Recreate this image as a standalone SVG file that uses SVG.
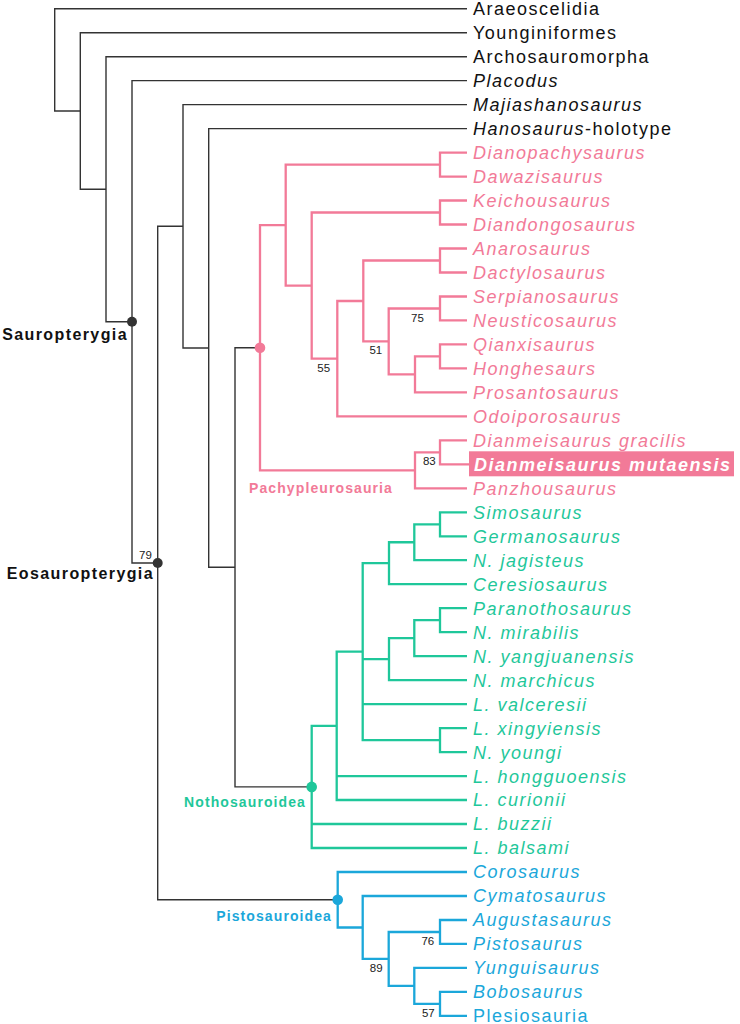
<svg xmlns="http://www.w3.org/2000/svg" width="740" height="1024" viewBox="0 0 740 1024">
<style>
.k{fill:none;stroke:#333;stroke-width:1.4}
.p{fill:none;stroke:#F27A98;stroke-width:2.3}
.g{fill:none;stroke:#1FC79A;stroke-width:2.3}
.b{fill:none;stroke:#1BA7DA;stroke-width:2.3}
text{font-family:"Liberation Sans",Arial,sans-serif}
.lf{font-size:18px;letter-spacing:1.5px}
.it{font-style:italic}
.tk{fill:#111}
.tp{fill:#F27A98}
.tg{fill:#1FC79A}
.tb{fill:#1BA7DA}
.cl{font-weight:bold;font-size:16px;letter-spacing:1.4px;fill:#111}
.sc{font-weight:bold;font-size:14px;letter-spacing:1.1px}
.bs{font-size:11.5px;fill:#222;text-anchor:middle}
</style>
<g id="connectors">
<path class="k" d="M467,8.7 H54.7 V111 H80.3"/>
<path class="k" d="M467,32.7 H80.3 V189.3 H106"/>
<path class="k" d="M467,56.7 H106 V321.8 H132"/>
<path class="k" d="M467,80.6 H132 V563 H157.7"/>
<path class="k" d="M183,226.3 H157.7 V899.7 H337.7"/>
<path class="k" d="M467,104.6 H183 V348 H208.7"/>
<path class="k" d="M467,128.6 H208.7 V567.3 H235"/>
<path class="k" d="M260,347.7 H235 V786.9 H311.7"/>
<path class="p" d="M285.7,225.1 H260 V470.3 H415"/>
<path class="p" d="M440,164.6 H285.7 V285.6 H311.7"/>
<path class="p" d="M467,152.6 H440 V176.6 H467"/>
<path class="p" d="M440,212.5 H311.7 V358.7 H337.3"/>
<path class="p" d="M467,200.5 H440 V224.5 H467"/>
<path class="p" d="M363.3,301 H337.3 V416.4 H467"/>
<path class="p" d="M440,260.5 H363.3 V341.4 H388.7"/>
<path class="p" d="M467,248.5 H440 V272.5 H467"/>
<path class="p" d="M440,308.5 H388.7 V374.4 H415"/>
<path class="p" d="M467,296.5 H440 V320.4 H467"/>
<path class="p" d="M440,356.4 H415 V392.4 H467"/>
<path class="p" d="M467,344.4 H440 V368.4 H467"/>
<path class="p" d="M440,452.3 H415 V488.3 H467"/>
<path class="p" d="M467,440.3 H440 V464.3 H469"/>
<path class="g" d="M336.7,725.8 H311.7 V848 H467 M311.7,824 H467"/>
<path class="g" d="M362.7,651.65 H336.7 V800 H467 M336.7,776.1 H467"/>
<path class="g" d="M389,563.2 H362.7 V740.1 H440 M362.7,659.15 H389 M362.7,704.1 H467"/>
<path class="g" d="M467,728.1 H440 V752.1 H467"/>
<path class="g" d="M414.3,542.25 H389 V584.2 H467"/>
<path class="g" d="M440,524.3 H414.3 V560.2 H467"/>
<path class="g" d="M467,512.3 H440 V536.3 H467"/>
<path class="g" d="M414.3,638.2 H389 V680.1 H467"/>
<path class="g" d="M440,620.2 H414.3 V656.2 H467"/>
<path class="g" d="M467,608.2 H440 V632.2 H467"/>
<path class="b" d="M467,872 H337.7 V927.5 H362.7"/>
<path class="b" d="M467,896 H362.7 V958.9 H388.7"/>
<path class="b" d="M440,932 H388.7 V985.9 H414.3"/>
<path class="b" d="M467,920 H440 V943.9 H467"/>
<path class="b" d="M467,967.9 H414.3 V1003.9 H440"/>
<path class="b" d="M467,991.9 H440 V1015.9 H467"/>
</g>
<g id="node-sauropterygia"><circle cx="132" cy="321.8" r="5" fill="#333"/><text class="cl" x="128" y="340" text-anchor="end">Sauropterygia</text></g>
<g id="node-eosauropterygia"><circle cx="157.7" cy="563" r="5" fill="#333"/><text class="cl" x="154" y="579" text-anchor="end">Eosauropterygia</text><text class="bs" x="145.5" y="559.3">79</text></g>
<g id="node-pachypleurosauria"><circle cx="260" cy="347.7" r="5.3" fill="#F27A98"/><text class="sc tp" x="249" y="493.3">Pachypleurosauria</text></g>
<g id="node-nothosauroidea"><circle cx="311.7" cy="786.9" r="5.3" fill="#1FC79A"/><text class="sc tg" x="306" y="806.5" text-anchor="end">Nothosauroidea</text></g>
<g id="node-pistosauroidea"><circle cx="337.7" cy="899.7" r="5.3" fill="#1BA7DA"/><text class="sc tb" x="332" y="921" text-anchor="end">Pistosauroidea</text></g>
<g id="support">
<text class="bs" x="323.7" y="371.7">55</text>
<text class="bs" x="375.8" y="354.3">51</text>
<text class="bs" x="417.5" y="322.3">75</text>
<text class="bs" x="429.3" y="465">83</text>
<text class="bs" x="427.8" y="945">76</text>
<text class="bs" x="376.2" y="972">89</text>
<text class="bs" x="428.3" y="1017.3">57</text>
</g>
<g id="leaves-outgroup" class="lf tk">
<g id="leaf-araeoscelidia"><text x="473" y="15.1">Araeoscelidia</text></g>
<g id="leaf-younginiformes"><text x="473" y="39.1">Younginiformes</text></g>
<g id="leaf-archosauromorpha"><text x="473" y="63.1">Archosauromorpha</text></g>
<g id="leaf-placodus"><text class="it" x="473" y="87">Placodus</text></g>
<g id="leaf-majiashanosaurus"><text class="it" x="473" y="111">Majiashanosaurus</text></g>
<g id="leaf-hanosaurus"><text x="473" y="135"><tspan class="it">Hanosaurus</tspan>-holotype</text></g>
</g>
<g id="leaves-pachypleurosauria" class="lf it tp">
<g id="leaf-dianopachysaurus"><text x="473" y="159">Dianopachysaurus</text></g>
<g id="leaf-dawazisaurus"><text x="473" y="183">Dawazisaurus</text></g>
<g id="leaf-keichousaurus"><text x="473" y="206.9">Keichousaurus</text></g>
<g id="leaf-diandongosaurus"><text x="473" y="230.9">Diandongosaurus</text></g>
<g id="leaf-anarosaurus"><text x="473" y="254.9">Anarosaurus</text></g>
<g id="leaf-dactylosaurus"><text x="473" y="278.9">Dactylosaurus</text></g>
<g id="leaf-serpianosaurus"><text x="473" y="302.9">Serpianosaurus</text></g>
<g id="leaf-neusticosaurus"><text x="473" y="326.8">Neusticosaurus</text></g>
<g id="leaf-qianxisaurus"><text x="473" y="350.8">Qianxisaurus</text></g>
<g id="leaf-honghesaurs"><text x="473" y="374.8">Honghesaurs</text></g>
<g id="leaf-prosantosaurus"><text x="473" y="398.8">Prosantosaurus</text></g>
<g id="leaf-odoiporosaurus"><text x="473" y="422.8">Odoiporosaurus</text></g>
<g id="leaf-dianmeisaurus-gracilis"><text x="473" y="446.7">Dianmeisaurus gracilis</text></g>
<g id="leaf-dianmeisaurus-mutaensis"><rect x="469" y="451.3" width="265" height="25" fill="#F27A98"/><text x="474" y="470.7" fill="#fff" font-weight="bold">Dianmeisaurus mutaensis</text></g>
<g id="leaf-panzhousaurus"><text x="473" y="494.7">Panzhousaurus</text></g>
</g>
<g id="leaves-nothosauroidea" class="lf it tg">
<g id="leaf-simosaurus"><text x="473" y="518.7">Simosaurus</text></g>
<g id="leaf-germanosaurus"><text x="473" y="542.7">Germanosaurus</text></g>
<g id="leaf-n-jagisteus"><text x="473" y="566.6">N. jagisteus</text></g>
<g id="leaf-ceresiosaurus"><text x="473" y="590.6">Ceresiosaurus</text></g>
<g id="leaf-paranothosaurus"><text x="473" y="614.6">Paranothosaurus</text></g>
<g id="leaf-n-mirabilis"><text x="473" y="638.6">N. mirabilis</text></g>
<g id="leaf-n-yangjuanensis"><text x="473" y="662.6">N. yangjuanensis</text></g>
<g id="leaf-n-marchicus"><text x="473" y="686.5">N. marchicus</text></g>
<g id="leaf-l-valceresii"><text x="473" y="710.5">L. valceresii</text></g>
<g id="leaf-l-xingyiensis"><text x="473" y="734.5">L. xingyiensis</text></g>
<g id="leaf-n-youngi"><text x="473" y="758.5">N. youngi</text></g>
<g id="leaf-l-hongguoensis"><text x="473" y="782.5">L. hongguoensis</text></g>
<g id="leaf-l-curionii"><text x="473" y="806.4">L. curionii</text></g>
<g id="leaf-l-buzzii"><text x="473" y="830.4">L. buzzii</text></g>
<g id="leaf-l-balsami"><text x="473" y="854.4">L. balsami</text></g>
</g>
<g id="leaves-pistosauroidea" class="lf tb">
<g id="leaf-corosaurus"><text class="it" x="473" y="878.4">Corosaurus</text></g>
<g id="leaf-cymatosaurus"><text class="it" x="473" y="902.4">Cymatosaurus</text></g>
<g id="leaf-augustasaurus"><text class="it" x="473" y="926.4">Augustasaurus</text></g>
<g id="leaf-pistosaurus"><text class="it" x="473" y="950.3">Pistosaurus</text></g>
<g id="leaf-yunguisaurus"><text class="it" x="473" y="974.3">Yunguisaurus</text></g>
<g id="leaf-bobosaurus"><text class="it" x="473" y="998.3">Bobosaurus</text></g>
<g id="leaf-plesiosauria"><text x="473" y="1021.5">Plesiosauria</text></g>
</g>
</svg>
